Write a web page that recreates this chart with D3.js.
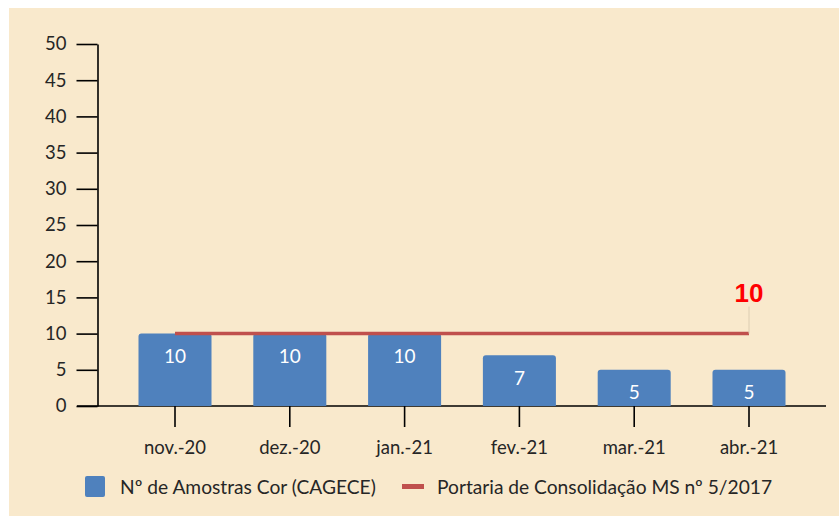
<!DOCTYPE html>
<html>
<head>
<meta charset="utf-8">
<script src="https://cdn.jsdelivr.net/npm/d3@7"></script>
<style>
  html, body { margin: 0; padding: 0; background: #fff; }
  svg { display: block; font-family: Lato, "Open Sans", sans-serif; }
</style>
</head>
<body>
<svg id="svg" width="839" height="516"></svg>
<script>
// chart data
const months = ["nov.-20", "dez.-20", "jan.-21", "fev.-21", "mar.-21", "abr.-21"];
const amostras = [10, 10, 10, 7, 5, 5];
const portaria = [10, 10, 10, 10, 10, 10];
const yTicks = [0, 5, 10, 15, 20, 25, 30, 35, 40, 45, 50];
const legendLabels = ["Nº de Amostras Cor (CAGECE)", "Portaria de Consolidação MS nº 5/2017"];

const width = 839;
const height = 516;
const svg = d3.select("#svg");

const barColor = "#4F81BD";
const lineColor = "#C0504D";
const textColor = "#262626";

// background panel
svg.append("rect")
  .attr("x", 9).attr("y", 8)
  .attr("width", width - 9).attr("height", height - 8)
  .attr("fill", "#F9E9CC");

const xScale = d3.scaleBand()
  .domain(months)
  .range([117.6, 806.4])
  .paddingInner(0.364)
  .paddingOuter(0.182);

const yScale = d3.scaleLinear()
  .domain([0, 50])
  .range([406, 44]);

// y axis
const yAxis = d3.axisLeft(yScale)
  .tickValues(yTicks)
  .tickSize(21)
  .tickPadding(10)
  .tickSizeOuter(0);

const yAxisG = svg.append("g")
  .attr("transform", "translate(97.5,0)")
  .call(yAxis);
yAxisG.select(".domain").attr("stroke", "#000").attr("stroke-width", 1.6);
yAxisG.selectAll(".tick line").attr("stroke", "#000").attr("stroke-width", 1.6);
yAxisG.selectAll(".tick text")
  .attr("font-size", 18.5)
  .attr("fill", textColor)
  .attr("font-family", "Lato, sans-serif");

// x axis
const xAxis = d3.axisBottom(xScale)
  .tickSize(21)
  .tickPadding(14)
  .tickSizeOuter(0);

const xAxisG = svg.append("g")
  .attr("transform", `translate(0,${yScale(0)})`)
  .call(xAxis);
xAxisG.select(".domain")
  .attr("d", "M77,0H826")
  .attr("stroke", "#000").attr("stroke-width", 1.6);
xAxisG.selectAll(".tick line").attr("stroke", "#000").attr("stroke-width", 1.6);
xAxisG.selectAll(".tick text")
  .attr("font-size", 18.5)
  .attr("fill", textColor)
  .attr("font-family", "Lato, sans-serif");

// bars with rounded top corners
const r = 3;
const barPath = (d, i) => {
  const x0 = xScale(months[i]);
  const w = xScale.bandwidth();
  const y0 = yScale(d);
  const yb = yScale(0);
  return `M${x0},${yb}V${y0 + r}Q${x0},${y0} ${x0 + r},${y0}H${x0 + w - r}Q${x0 + w},${y0} ${x0 + w},${y0 + r}V${yb}Z`;
};

svg.append("g").selectAll("path")
  .data(amostras)
  .enter().append("path")
  .attr("d", barPath)
  .attr("fill", barColor);

svg.append("g").selectAll("text")
  .data(amostras)
  .enter().append("text")
  .attr("x", (d, i) => xScale(months[i]) + xScale.bandwidth() / 2)
  .attr("y", d => yScale(d) + 29.5)
  .attr("text-anchor", "middle")
  .attr("font-size", 19)
  .attr("fill", "#fff")
  .text(d => d);

// reference line
const xCenter = m => xScale(m) + xScale.bandwidth() / 2;
const line = d3.line()
  .x((d, i) => xCenter(months[i]))
  .y(d => yScale(d));

svg.append("path")
  .datum(portaria)
  .attr("d", line)
  .attr("fill", "none")
  .attr("stroke", lineColor)
  .attr("stroke-width", 3.5);

// label for the last point of the reference line
const lastX = xCenter(months[months.length - 1]);
const lastY = yScale(portaria[portaria.length - 1]);
svg.append("line")
  .attr("x1", lastX).attr("x2", lastX)
  .attr("y1", lastY).attr("y2", lastY - 27)
  .attr("stroke", "#DCCDB2")
  .attr("stroke-width", 1);
svg.append("text")
  .attr("x", lastX)
  .attr("y", lastY - 32)
  .attr("text-anchor", "middle")
  .attr("font-family", "Arial, 'Liberation Sans', sans-serif")
  .attr("font-weight", "bold")
  .attr("font-size", 26)
  .attr("fill", "#FF0000")
  .text(portaria[portaria.length - 1]);

// legend
const legend = svg.append("g");
legend.append("rect")
  .attr("x", 85).attr("y", 476)
  .attr("width", 20).attr("height", 21)
  .attr("rx", 2)
  .attr("fill", barColor);
legend.append("text")
  .attr("x", 120).attr("y", 486.5)
  .attr("dominant-baseline", "central")
  .attr("font-size", 19.2)
  .attr("fill", textColor)
  .text(legendLabels[0]);
legend.append("line")
  .attr("x1", 402).attr("x2", 424)
  .attr("y1", 486.5).attr("y2", 486.5)
  .attr("stroke", lineColor)
  .attr("stroke-width", 5);
legend.append("text")
  .attr("x", 437).attr("y", 486.5)
  .attr("dominant-baseline", "central")
  .attr("font-size", 19.2)
  .attr("fill", textColor)
  .text(legendLabels[1]);
</script>
</body>
</html>
